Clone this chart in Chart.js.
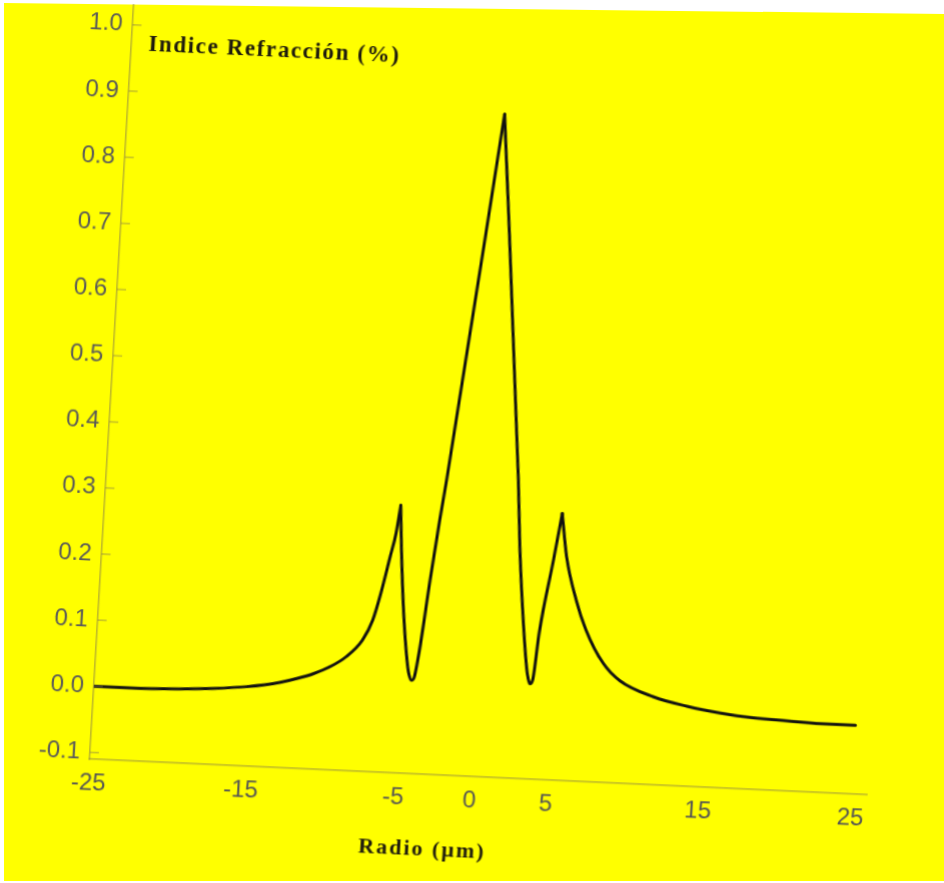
<!DOCTYPE html>
<html>
<head>
<meta charset="utf-8">
<script src="https://cdn.jsdelivr.net/npm/chart.js@4/dist/chart.umd.min.js"></script>
<style>
  html, body { margin: 0; padding: 0; background: #ffffff; width: 944px; height: 883px; overflow: hidden; }
  #paper {
    position: absolute; left: 0; top: 0; width: 944px; height: 883px;
    background: #ffff00;
    clip-path: polygon(4px 3px, 944px 14px, 944px 881px, 4px 881px);
  }
  #sheet {
    position: absolute; left: 0; top: 0; width: 944px; height: 883px;
    transform-origin: 90px 752px;
    transform: matrix(1, 0.046, -0.0585, 1, 0, 0);
  }
</style>
</head>
<body>
<div id="paper"></div>
<div id="sheet"><canvas id="c" width="944" height="883"></canvas></div>
<script>
// Refractive index profile across the fibre radius
const radius = [
  -25, -22.6, -19.4, -17.2, -15.0, -12.8, -11.7, -10.7, -9.6, -8.6,
  -7.6, -7.0, -6.6, -6.1, -5.8, -5.6, -5.4, -5.0, -4.6, -4.42,
  -4.22, -4.05, -3.8, -3.4, -3.0, -2.7, -0.3, 2.0, 2.35, 2.8,
  3.25, 3.38, 3.53, 3.71, 3.95, 4.6, 5.0, 5.45, 6.25, 7.0,
  8.25, 9.4, 11.65, 13.9, 16.1, 18.3, 20.5, 22.7, 25
];
const indexDiff = [
  0.000, 0.000, 0.002, 0.005, 0.010, 0.019, 0.026, 0.034, 0.046, 0.062,
  0.088, 0.119, 0.157, 0.216, 0.252, 0.294, 0.231, 0.132, 0.061, 0.040,
  0.031, 0.037, 0.082, 0.183, 0.274, 0.335, 0.891, 0.340, 0.240, 0.140,
  0.059, 0.0435, 0.034, 0.041, 0.112, 0.222, 0.293, 0.228, 0.163, 0.119,
  0.070, 0.045, 0.023, 0.011, 0.003, -0.002, -0.004, -0.006, -0.006
];
// Radii of the cusps (side rings and core apex)
const cuspRadii = [-5.6, -0.3, 5.0];

const xTicks = [-25, -15, -5, 0, 5, 15, 25];
const yTicks = [-0.1, 0.0, 0.1, 0.2, 0.3, 0.4, 0.5, 0.6, 0.7, 0.8, 0.9, 1.0];

const chartTitle = 'Indice Refracción (%)';
const xTitle = 'Radio (μm)';

const axisColor = 'rgba(130, 118, 80, 0.55)';

// The profile is smooth between cusps and pointed at each cusp, so it is
// drawn as consecutive pieces that share their end points.
const points = radius.map((r, i) => ({ x: r, y: indexDiff[i] }));
const cuts = [0, ...cuspRadii.map(c => radius.indexOf(c)), radius.length - 1];
const pieces = [];
for (let k = 0; k < cuts.length - 1; k++) {
  pieces.push(points.slice(cuts[k], cuts[k + 1] + 1));
}

// Inward tick marks on the vertical axis plus the two captions
const captions = {
  id: 'captions',
  afterDraw(chart) {
    const { ctx, chartArea: a, scales: { x, y } } = chart;
    ctx.save();
    ctx.strokeStyle = axisColor;
    ctx.lineWidth = 1.3;
    yTicks.forEach(v => {
      const py = y.getPixelForValue(v);
      ctx.beginPath();
      ctx.moveTo(a.left, py);
      ctx.lineTo(a.left + 9, py);
      ctx.stroke();
    });

    ctx.fillStyle = '#1d1a0e';
    ctx.textBaseline = 'middle';
    ctx.textAlign = 'left';
    ctx.font = 'bold 23px "Liberation Serif"';
    ctx.letterSpacing = '1.6px';
    ctx.fillText(chartTitle, a.left + 17, a.top + 39);

    ctx.textAlign = 'center';
    ctx.font = 'bold 22px "Liberation Serif"';
    ctx.letterSpacing = '2px';
    ctx.fillText(xTitle, x.getPixelForValue(-2.9), a.bottom + 75);
    ctx.restore();
  }
};

new Chart(document.getElementById('c'), {
  type: 'line',
  data: {
    datasets: pieces.map(p => ({
      data: p,
      borderColor: '#111111',
      borderWidth: 3,
      borderJoinStyle: 'round',
      borderCapStyle: 'round',
      pointRadius: 0,
      fill: false,
      cubicInterpolationMode: 'monotone'
    }))
  },
  options: {
    responsive: false,
    animation: false,
    devicePixelRatio: 1,
    layout: { padding: { left: 0, right: 77, top: 5, bottom: 0 } },
    plugins: { legend: { display: false }, tooltip: { enabled: false }, title: { display: false } },
    scales: {
      x: {
        type: 'linear',
        min: -25,
        max: 26,
        afterBuildTicks: s => { s.ticks = xTicks.map(v => ({ value: v })); },
        afterFit: s => { s.height = 124; s.paddingLeft = 0; s.paddingRight = 0; },
        grid: { display: false, drawTicks: false },
        border: { display: true, color: axisColor, width: 1.5 },
        ticks: {
          autoSkip: false,
          maxRotation: 0,
          padding: 10,
          color: '#555555',
          font: { family: '"Liberation Sans"', size: 24 },
          callback: v => String(v)
        }
      },
      y: {
        type: 'linear',
        min: -0.11,
        max: 1.03,
        afterBuildTicks: s => { s.ticks = yTicks.map(v => ({ value: v })); },
        afterFit: s => { s.width = 90; s.paddingTop = 0; s.paddingBottom = 0; },
        grid: { display: false, drawTicks: false },
        border: { display: true, color: axisColor, width: 1.5 },
        ticks: {
          autoSkip: false,
          padding: 10,
          color: '#5a5a5a',
          font: { family: '"Liberation Sans"', size: 24 },
          callback: v => Number(v).toFixed(1)
        }
      }
    }
  },
  plugins: [captions]
});
</script>
</body>
</html>
